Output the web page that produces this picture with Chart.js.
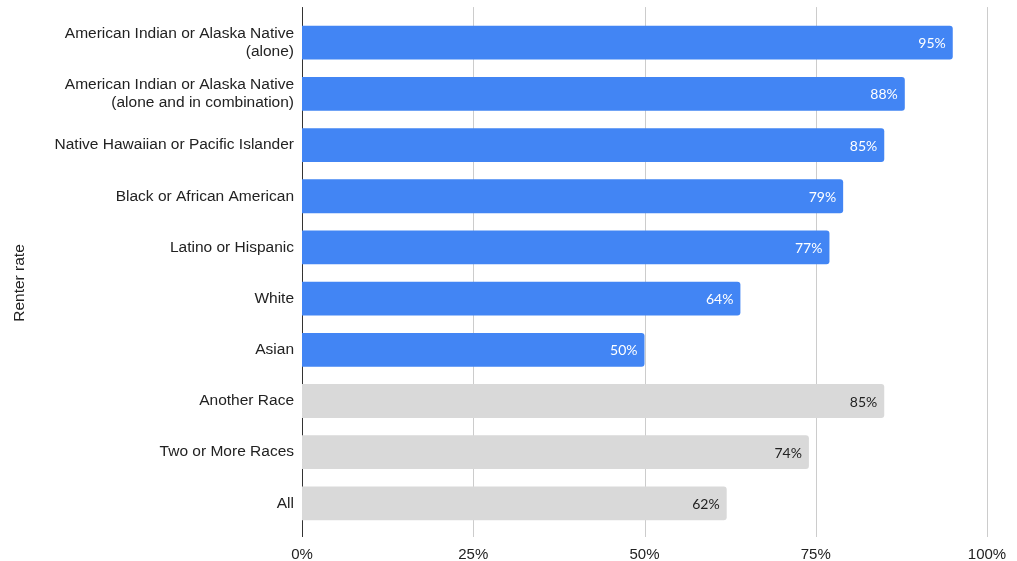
<!DOCTYPE html>
<html>
<head>
<meta charset="utf-8">
<script src="https://cdn.jsdelivr.net/npm/chart.js@4/dist/chart.umd.min.js"></script>
<style>
  html, body { margin: 0; padding: 0; background: #fff; }
  #wrap { width: 1017px; height: 561px; position: relative; }
</style>
</head>
<body>
<div id="wrap"><canvas id="chart"></canvas></div>
<script>
// renter rate by race / ethnicity
const groups = [
    ["American Indian or Alaska Native", "(alone)"],
    ["American Indian or Alaska Native", "(alone and in combination)"],
    "Native Hawaiian or Pacific Islander",
    "Black or African American",
    "Latino or Hispanic",
    "White",
    "Asian",
    "Another Race",
    "Two or More Races",
    "All"
];
const renterRate = [95, 88, 85, 79, 77, 64, 50, 85, 74, 62];
const xTicks = [0, 25, 50, 75, 100];

const BLUE = '#4285f4';
const GREY = '#d9d9d9';
const SANS = '"Liberation Sans", Arial, sans-serif';
const barColors = renterRate.map((v, i) => i < 7 ? BLUE : GREY);
const labelColors = renterRate.map((v, i) => i < 7 ? '#ffffff' : '#222222');

// vertical grid + axis line, a bit taller than the bar area
const gridPlugin = {
    id: 'grid',
    beforeDatasetsDraw(chart) {
        const ctx = chart.ctx;
        const x = chart.scales.x;
        const top = chart.chartArea.top - 10;
        const bottom = chart.chartArea.bottom + 8;
        ctx.save();
        xTicks.forEach(t => {
            const px = Math.round(x.getPixelForValue(t)) + 0.5;
            ctx.strokeStyle = t === 0 ? '#333333' : '#cccccc';
            ctx.lineWidth = 1;
            ctx.beginPath();
            ctx.moveTo(px, top);
            ctx.lineTo(px, bottom);
            ctx.stroke();
        });
        ctx.restore();
    }
};

// value labels inside the end of each bar, plus the axis title
const labelPlugin = {
    id: 'valueLabels',
    afterDatasetsDraw(chart) {
        const ctx = chart.ctx;
        const meta = chart.getDatasetMeta(0);
        ctx.save();
        ctx.font = '14px Lato, "Open Sans", sans-serif';
        ctx.textAlign = 'right';
        ctx.textBaseline = 'middle';
        meta.data.forEach((bar, i) => {
            ctx.fillStyle = labelColors[i];
            ctx.fillText(renterRate[i] + '%', bar.x - 7, bar.y + 1);
        });
        ctx.translate(20, 283);
        ctx.rotate(-Math.PI / 2);
        ctx.textAlign = 'center';
        ctx.font = '15.5px ' + SANS;
        ctx.fillStyle = '#222222';
        ctx.fillText('Renter rate', 0, 0);
        ctx.restore();
    }
};

new Chart(document.getElementById('chart'), {
    type: 'bar',
    data: {
        labels: groups,
        datasets: [{
            data: renterRate,
            backgroundColor: barColors,
            borderRadius: 3,
            borderSkipped: 'start',
            categoryPercentage: 0.66,
            barPercentage: 1
        }]
    },
    options: {
        indexAxis: 'y',
        responsive: true,
        maintainAspectRatio: false,
        animation: false,
        layout: { padding: { top: 15, right: 30, bottom: 0, left: 0 } },
        plugins: {
            legend: { display: false },
            tooltip: { enabled: false }
        },
        scales: {
            x: {
                min: 0,
                max: 100,
                afterBuildTicks: s => { s.ticks = xTicks.map(v => ({ value: v })); },
                grid: { display: false, drawTicks: false },
                border: { display: false },
                ticks: {
                    color: '#222222',
                    padding: 17,
                    maxRotation: 0,
                    font: { family: SANS, size: 15 },
                    callback: v => v + '%'
                },
                afterFit: s => { s.height = 32; s.paddingRight = 0; s.paddingLeft = 0; }
            },
            y: {
                grid: { display: false, drawTicks: false },
                border: { display: false },
                ticks: {
                    color: '#222222',
                    padding: 8,
                    font: { family: SANS, size: 15.5, lineHeight: 1.17 }
                },
                afterFit: s => { s.width = 302; }
            }
        }
    },
    plugins: [gridPlugin, labelPlugin]
});
</script>
</body>
</html>
